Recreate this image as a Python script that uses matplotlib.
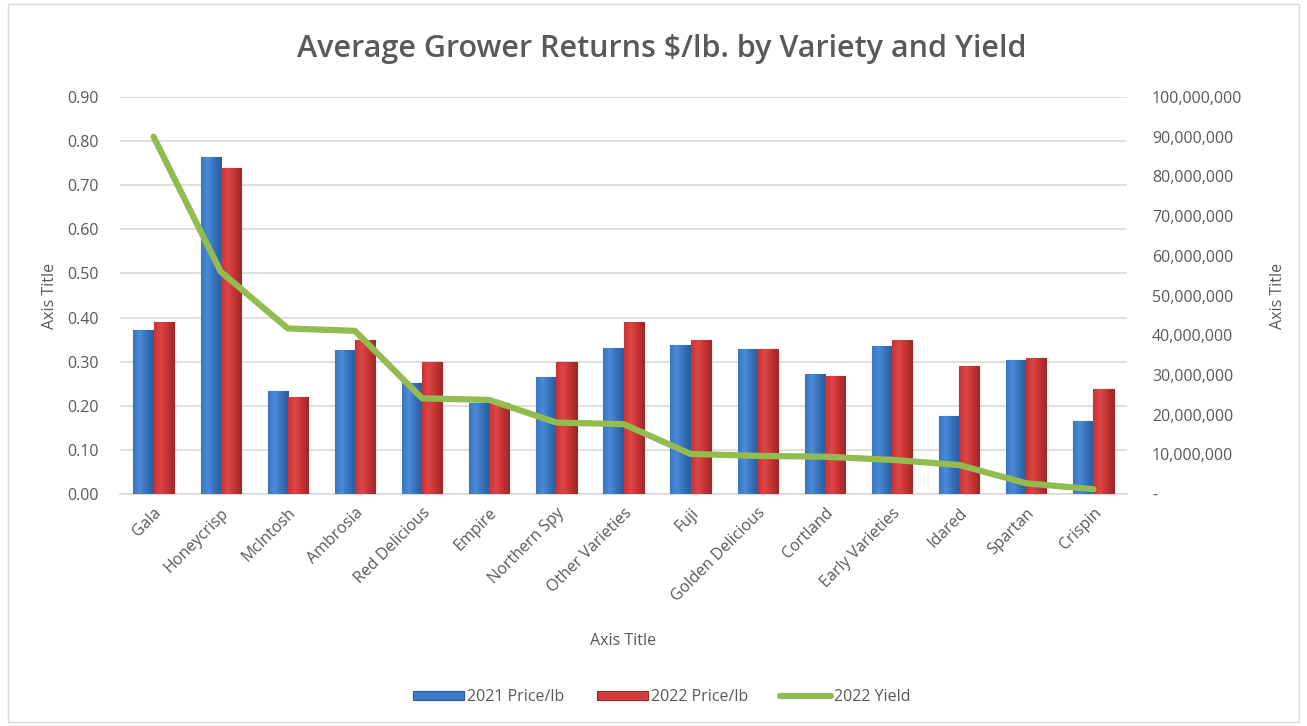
import matplotlib
matplotlib.use("Agg")
import matplotlib.pyplot as plt
import numpy as np
from matplotlib.ticker import FuncFormatter, MultipleLocator
from matplotlib.patches import Rectangle

categories = ["Gala", "Honeycrisp", "McIntosh", "Ambrosia", "Red Delicious", "Empire",
              "Northern Spy", "Other Varieties", "Fuji", "Golden Delicious", "Cortland",
              "Early Varieties", "Idared", "Spartan", "Crispin"]
price_2021 = [0.372, 0.763, 0.234, 0.326, 0.251, 0.207, 0.265, 0.330, 0.338, 0.329,
              0.272, 0.336, 0.177, 0.304, 0.166]
price_2022 = [0.390, 0.739, 0.219, 0.348, 0.299, 0.207, 0.299, 0.389, 0.349, 0.329,
              0.268, 0.349, 0.290, 0.309, 0.239]
yield_2022 = [90.0e6, 56.0e6, 41.7e6, 41.1e6, 24.1e6, 23.7e6, 18.0e6, 17.6e6, 10.1e6,
              9.6e6, 9.4e6, 8.6e6, 7.3e6, 2.7e6, 1.2e6]

TXT = "#595959"
plt.rcParams['font.family'] = ['Open Sans', 'DejaVu Sans']

fig = plt.figure(figsize=(13.07, 7.26), dpi=100)
fig.patches.append(Rectangle((0.006, 0.006), 0.988, 0.988, transform=fig.transFigure,
                             fill=False, edgecolor="#d9d9d9", linewidth=1))
ax = fig.add_axes([120/1307, 1-494/726, (1127-120)/1307, (494-97)/726])
ax2 = ax.twinx()

x = np.arange(len(categories))
w = 0.30
b1 = ax.bar(x - w/2, price_2021, w, color="#3c7bc8", edgecolor="#2a5a98", linewidth=0.8, zorder=3,
            label="2021 Price/lb")
b2 = ax.bar(x + w/2, price_2022, w, color="#d23c3c", edgecolor="#9c2626", linewidth=0.8, zorder=3,
            label="2022 Price/lb")

# gradient shading for 3D look
def shade(bars, cmap_colors):
    from matplotlib.colors import LinearSegmentedColormap
    cm = LinearSegmentedColormap.from_list("g", cmap_colors)
    grad = np.linspace(0, 1, 64).reshape(1, -1)
    for bar in bars:
        bx, by = bar.get_x(), bar.get_y()
        bw, bh = bar.get_width(), bar.get_height()
        im = ax.imshow(grad, extent=[bx, bx + bw, by, by + bh], aspect="auto", cmap=cm,
                       zorder=3.5, interpolation="bicubic")
        im.set_clip_path(bar)

shade(b1, ["#3a77c0", "#4a8ad8", "#3470b8", "#2a5c9c"])
shade(b2, ["#c83434", "#dc4646", "#c43232", "#9e2828"])

ax.set_xlim(-0.5, len(categories) - 0.5)
ax.set_ylim(0, 0.9)
ax.yaxis.set_major_locator(MultipleLocator(0.1))
ax.yaxis.set_major_formatter(FuncFormatter(lambda v, p: f"{v:.2f}"))
ax.grid(axis="y", color="#d9d9d9", linewidth=1.2, zorder=0)
ax.set_axisbelow(True)

ax2.plot(x, yield_2022, color="#92bb50", linewidth=4.5, solid_capstyle="round",
         solid_joinstyle="round", zorder=5, label="2022 Yield")
ax2.set_ylim(0, 100e6)
ax2.yaxis.set_major_locator(MultipleLocator(10e6))
ax2.yaxis.set_major_formatter(FuncFormatter(lambda v, p: "-" if v == 0 else f"{v:,.0f}"))

for a in (ax, ax2):
    for s in a.spines.values():
        s.set_visible(False)
    a.tick_params(length=0, colors=TXT, labelsize=11.5)
ax.spines["bottom"].set_visible(True)
ax.spines["bottom"].set_color("#d9d9d9")
ax.spines["bottom"].set_linewidth(1.2)
ax.tick_params(axis="y", pad=15)
ax2.tick_params(axis="y", pad=18)

ax.set_xticks(x)
ax.set_xticklabels(categories, rotation=45, ha="right", rotation_mode="anchor")
ax.tick_params(axis="x", pad=8)

ax.set_ylabel("Axis Title", color=TXT, fontsize=11.5, labelpad=7)
ax2.set_ylabel("Axis Title", color=TXT, fontsize=11.5, labelpad=20)
fig.text(623/1307, 1-641/726, "Axis Title", color=TXT, fontsize=11.5, ha="center", va="center")

fig.text(662/1307, 1-49/726, "Average Grower Returns $/lb. by Variety and Yield", color=TXT,
         fontsize=22, fontweight="semibold", ha="center", va="center")

h1, l1 = ax.get_legend_handles_labels()
h2, l2 = ax2.get_legend_handles_labels()
fig.legend(h1 + h2, l1 + l2, loc="center", bbox_to_anchor=(662/1307, 1-697/726), ncol=3,
           frameon=False, fontsize=11.5, labelcolor=TXT, handlelength=3.2, handleheight=0.5,
           handletextpad=0.2, columnspacing=2.0)

fig.savefig("out.png", dpi=100)
